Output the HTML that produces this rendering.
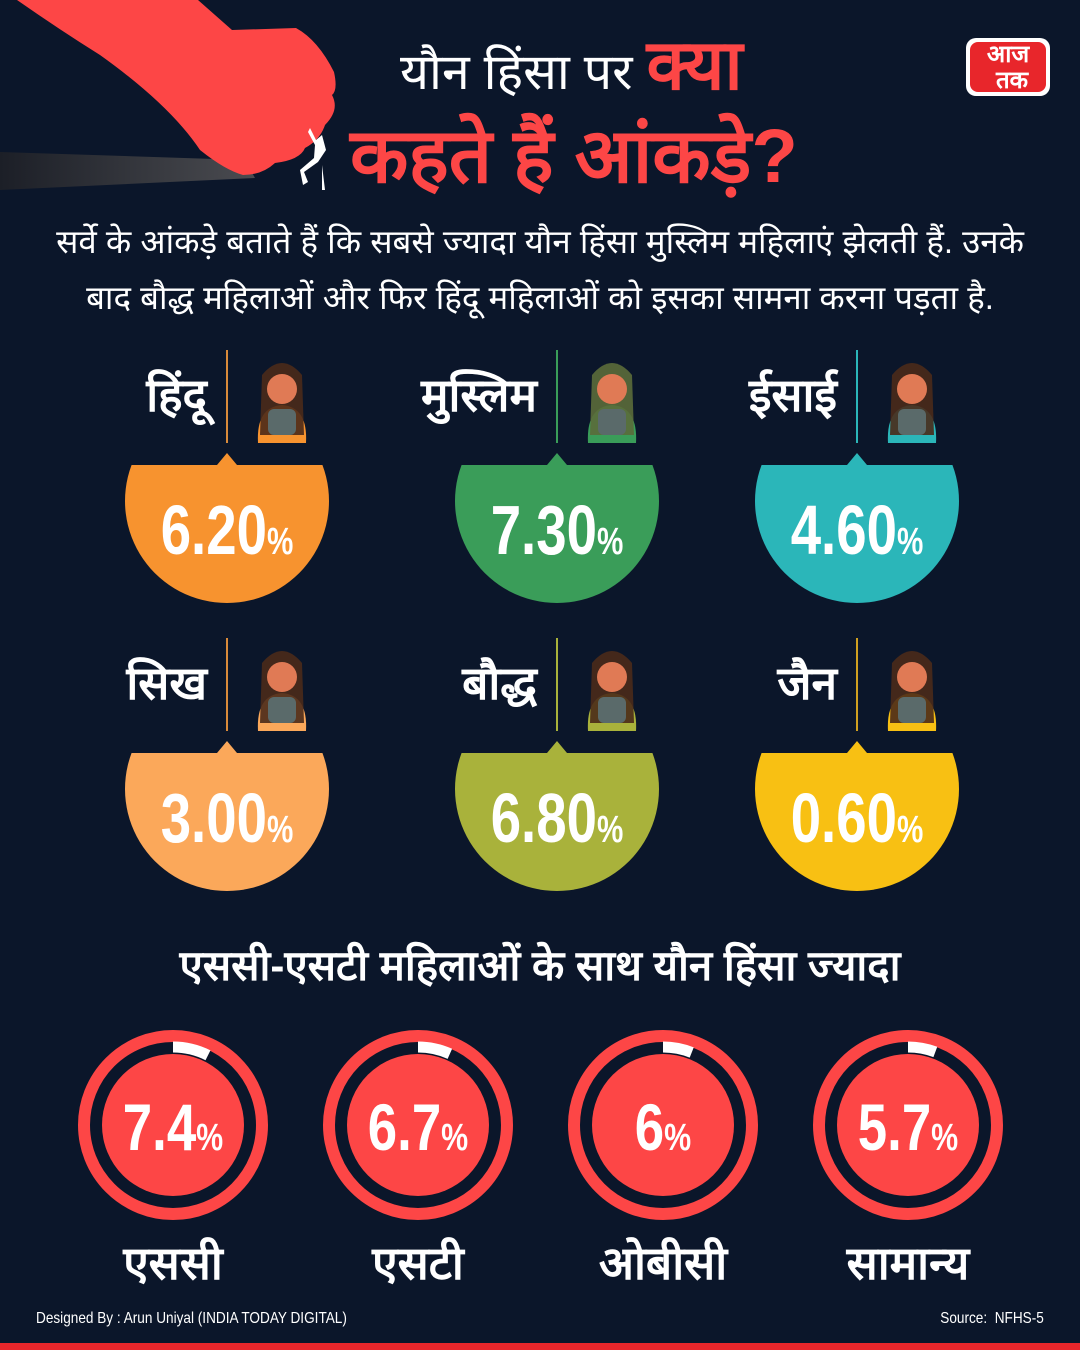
<!DOCTYPE html>
<html><head><meta charset="utf-8">
<style>
html,body{margin:0;padding:0;background:#0b162a;}
#root{position:relative;width:1080px;height:1350px;background:#0b162a;overflow:hidden;font-family:"Liberation Sans Narrow","Liberation Sans","Noto Sans CJK SC",sans-serif;color:#fff;}
.abs{position:absolute;}
.t{font-weight:bold;}
</style></head><body>
<div id="root">
<svg class="abs" style="left:0;top:0" width="1080" height="1350">
 <defs><linearGradient id="sh" x1="0" x2="1"><stop offset="0" stop-color="#1c1f27"/><stop offset="1" stop-color="#4a4b50"/></linearGradient></defs>
 <path d="M0 152 L245 160 L255 178 L0 190 Z" fill="url(#sh)"/>
 <path d="M17 0 L198 0 L232 30 L296 28 Q318 40 334 72 Q338 90 332 95 Q340 110 325 125 Q320 140 305 148 Q300 160 275 163 Q262 175 243 175 Q225 170 200 150 Q170 105 100 55 Q60 30 17 0 Z" fill="#fd4646"/>
 <path d="M310 128 L316 140 L322 135 L326 150 L318 162 L304 172 L308 182 L303 185 L300 170 L314 158 L315 145 L308 132 Z M322 165 L325 190 L322 190 Z" fill="#fff"/>
 <rect x="0" y="1343" width="1080" height="7" fill="#e8262b"/>
 <g>
  <rect x="966" y="38" width="84" height="58" rx="10" fill="#fff"/>
  <rect x="970" y="42" width="76" height="50" rx="8" fill="#e8262b"/>
  <text x="1008" y="62" font-size="24" font-weight="bold" fill="#fff" text-anchor="middle" font-family="sans-serif">आज</text>
  <text x="1012" y="88" font-size="24" font-weight="bold" fill="#fff" text-anchor="middle" font-family="sans-serif">तक</text>
 </g>
 <g id="blobs"></g>
 <g id="rings"></g>
</svg>
<div class="abs t" style="left:400px;top:30px;font-size:50px;line-height:70px;white-space:nowrap;">
 <span style="font-weight:normal">यौन हिंसा पर </span><span style="color:#fd4646;font-size:70px">क्या</span></div>
<div class="abs t" style="left:350px;top:112px;font-size:76px;line-height:90px;color:#fd4646;white-space:nowrap;">कहते हैं आंकड़े?</div>
<div class="abs" style="left:0;width:1080px;top:214px;text-align:center;font-size:33px;line-height:56px;">सर्वे के आंकड़े बताते हैं कि सबसे ज्यादा यौन हिंसा मुस्लिम महिलाएं झेलती हैं. उनके<br>बाद बौद्ध महिलाओं और फिर हिंदू महिलाओं को इसका सामना करना पड़ता है.</div>
<div class="abs t" style="left:0;width:1080px;top:936px;text-align:center;font-size:42px;line-height:60px;">एससी-एसटी महिलाओं के साथ यौन हिंसा ज्यादा</div>
<div class="abs" style="left:36px;top:1310px;font-size:16px;transform:scaleX(0.85);transform-origin:left;">Designed By : Arun Uniyal (INDIA TODAY DIGITAL)</div>
<div class="abs" style="right:36px;top:1310px;font-size:16px;transform:scaleX(0.85);transform-origin:right;">Source:&nbsp; NFHS-5</div>
<div id="labels"></div>
</div>
<script>
const religions=["हिंदू","मुस्लिम","ईसाई","सिख","बौद्ध","जैन"];
const religionValues=[6.20,7.30,4.60,3.00,6.80,0.60];
const religionColors=["#f7932f","#3a9d59","#2bb6b9","#fba85a","#a9b23b","#f8c013"];
const castes=["एससी","एसटी","ओबीसी","सामान्य"];
const casteValues=[7.4,6.7,6,5.7];
const casteLabels=["7.4","6.7","6","5.7"];

const NS="http://www.w3.org/2000/svg";
const colX=[227,557,857], rowY=[465,753];
const blobs=document.getElementById('blobs');
const labels=document.getElementById('labels');
const lineCols=["#d98a3a","#3a9d59","#2bb6b9","#d98a3a","#a9b23b","#d0a020"];
religions.forEach((r,i)=>{
  const cx=colX[i%3], top=rowY[Math.floor(i/3)];
  const R=102, cy=top+36;
  const dx=Math.sqrt(R*R-36*36);
  const p=document.createElementNS(NS,'path');
  p.setAttribute('d',`M${cx-dx} ${top} L${cx-10} ${top} L${cx} ${top-12} L${cx+10} ${top} L${cx+dx} ${top} A${R} ${R} 0 1 1 ${cx-dx} ${top} Z`);
  p.setAttribute('fill',religionColors[i]);
  
  
  blobs.appendChild(p);
  const ln=document.createElementNS(NS,'rect');
  ln.setAttribute('x',cx-1);ln.setAttribute('y',top-115);ln.setAttribute('width',2);ln.setAttribute('height',93);
  ln.setAttribute('fill',lineCols[i]);
  
  
  blobs.appendChild(ln);
  const g=document.createElementNS(NS,'g');
  
  
  const ix=cx+55, iy=top-70;
  g.innerHTML=`<path d="M${ix-24} ${iy+48} Q${ix-26} ${iy+12} ${ix} ${iy+10} Q${ix+26} ${iy+12} ${ix+24} ${iy+48} Z" fill="${religionColors[i]}"/><path d="M${ix-22} ${iy+40} L${ix-20} ${iy-20} Q${ix} ${iy-44} ${ix+20} ${iy-20} L${ix+22} ${iy+40} Z" fill="${i==1?'#5b6b3a':'#4a2a1a'}" opacity="0.9"/><circle cx="${ix}" cy="${iy-6}" r="15" fill="#e07a55"/><rect x="${ix-14}" y="${iy+14}" width="28" height="26" rx="6" fill="#5a6a6a"/>`;
  blobs.appendChild(g);
  const t=document.createElementNS(NS,'text');
  t.setAttribute('x',0);t.setAttribute('y',0);t.setAttribute('text-anchor','middle');
  t.setAttribute('transform',`translate(${cx},${cy+53}) scale(0.78,1)`);
  t.setAttribute('font-size','70');t.setAttribute('font-weight','bold');t.setAttribute('fill','#fff');
  t.setAttribute('font-family','"Liberation Sans Narrow","Liberation Sans",sans-serif');
  t.innerHTML=religionValues[i].toFixed(2)+'<tspan font-size="38">%</tspan>';
  
  
  blobs.appendChild(t);
  const d=document.createElement('div');
  d.className='abs t';
  d.style.cssText=`right:${1080-cx+20}px;top:${top-100}px;font-size:46px;line-height:60px;`;
  d.textContent=r;
  
  
  labels.appendChild(d);
});
const rings=document.getElementById('rings');
const ringX=[173,418,663,908], ringY=1125;
castes.forEach((c,i)=>{
  const cx=ringX[i];
  const g=document.createElementNS(NS,'g');
  
  
  const a=casteValues[i]/100*2*Math.PI, r=78;
  const x2=cx+r*Math.sin(a), y2=ringY-r*Math.cos(a);
  g.innerHTML=`<circle cx="${cx}" cy="${ringY}" r="89" fill="none" stroke="#fd4646" stroke-width="12"/><circle cx="${cx}" cy="${ringY}" r="71" fill="#fd4646"/><path d="M${cx} ${ringY-r} A${r} ${r} 0 0 1 ${x2} ${y2}" fill="none" stroke="#fff" stroke-width="11"/>`;
  rings.appendChild(g);
  const t=document.createElementNS(NS,'text');
  t.setAttribute('x',0);t.setAttribute('y',0);t.setAttribute('text-anchor','middle');
  t.setAttribute('transform',`translate(${cx},${ringY+25}) scale(0.8,1)`);
  t.setAttribute('font-size','66');t.setAttribute('font-weight','bold');t.setAttribute('fill','#fff');
  t.setAttribute('font-family','"Liberation Sans Narrow","Liberation Sans",sans-serif');
  t.innerHTML=casteLabels[i]+'<tspan font-size="38">%</tspan>';
  
  
  rings.appendChild(t);
  const d=document.createElement('div');
  d.className='abs t';
  d.style.cssText=`left:${cx-120}px;width:240px;text-align:center;top:1233px;font-size:46px;line-height:60px;`;
  d.textContent=c;
  
  
  labels.appendChild(d);
});
</script>
</body></html>
